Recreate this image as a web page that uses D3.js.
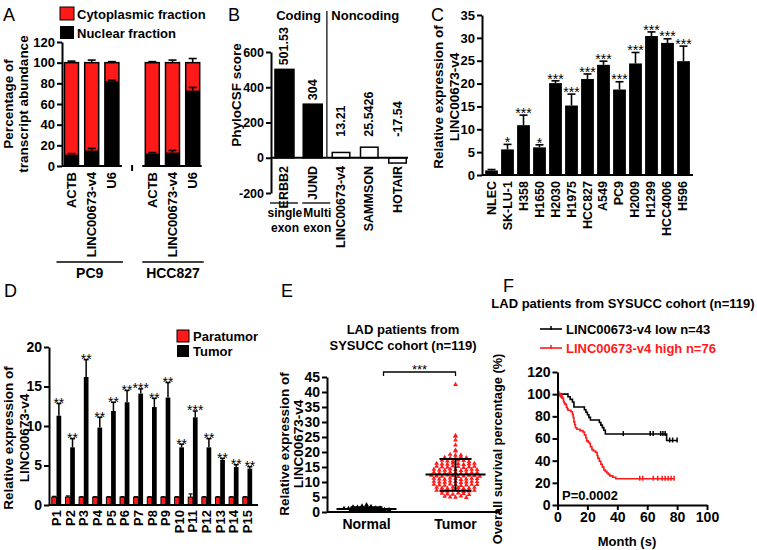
<!DOCTYPE html>
<html><head><meta charset="utf-8">
<script src="https://cdn.jsdelivr.net/npm/d3@7"></script>
<style>
html,body{margin:0;padding:0;background:#fff;}
svg{display:block;font-family:"Liberation Sans",Arial,sans-serif;}
</style></head><body>
<svg id="c" width="757" height="550"></svg>
<script>
// ---------- DATA ----------
// Panel A
const aGroups = ["PC9", "HCC827"];
const aGenes = ["ACTB", "LINC00673-v4", "U6"];
const aNuclear = [11, 15, 82, 12, 13, 73];
const aNuclearErr = [1, 2, 1, 1, 2, 3];
const aTotalErr = [1.5, 2.5, 1, 1, 2.5, 4];
const aTicks = [0, 20, 40, 60, 80, 100, 120];
// Panel B
const bCats = ["ERBB2", "JUND", "LINC00673-v4", "SAMMSON", "HOTAIR"];
const bScores = [501.53, 304, 30, 60, -30];
const bLabels = ["501.53", "304", "13.21", "25.5426", "-17.54"];
const bCoding = [true, true, false, false, false];
const bTicks = [-200, 0, 200, 400, 600];
// Panel C
const cCats = ["NLEC", "SK-LU-1", "H358", "H1650", "H2030", "H1975", "HCC827", "A549", "PC9", "H2009", "H1299", "HCC4006", "H596"];
const cMeans = [1.0, 5.6, 10.9, 6.05, 20.1, 15.2, 21.0, 24.1, 18.7, 24.4, 30.4, 28.9, 24.9];
const cTops = [1.2, 6.7, 13.1, 6.6, 20.6, 17.7, 22.1, 24.9, 20.4, 26.8, 31.3, 29.8, 28.2];
const cStars = ["", "*", "***", "*", "***", "***", "***", "***", "***", "***", "***", "***", "***"];
const cTicks = [0, 5, 10, 15, 20, 25, 30, 35];
// Panel D
const dCats = ["P1","P2","P3","P4","P5","P6","P7","P8","P9","P10","P11","P12","P13","P14","P15"];
const dSeries = ["Paratumor", "Tumor"];
const dPara = [1,1,1,1,1,1,1,1,1,1,1,1,1,1,1];
const dParaTop = [1.1,1.15,1.05,1.05,1.05,1.05,1.05,1.05,1.05,1.05,1.4,1.05,1.05,1.05,1.05];
const dTumor = [11.3, 7.3, 16.2, 9.8, 11.9, 13.0, 14.1, 12.4, 13.6, 7.3, 11.1, 7.3, 5.7, 4.8, 4.6];
const dTumorTop = [12.85, 8.4, 18.4, 11.1, 13.0, 14.5, 14.7, 13.5, 15.5, 7.7, 11.9, 8.4, 5.9, 5.1, 4.85];
const dStars = ["**","**","**","**","**","**","***","**","**","**","***","**","**","**","**"];
const dTicks = [0, 5, 10, 15, 20];
// Panel E
const eGroups = ["Normal", "Tumor"];
const eNormal = [2.4,2.0,1.9,1.8,1.7,1.6,1.5,1.5,1.4,1.3,1.3,1.2,1.2,1.1,1.1,1.0,1.0,1.0,0.9,0.9,0.8,0.8,0.7,0.7,0.6,0.6,0.5,0.5,0.4,0.3];
const eTumor = [42.5, 25.5,25.2, 24.0, 22.3, 20.6,20.3, 19.2,18.9,19.0,
  18.2,18.0,17.9,18.3,18.1, 17.2,17.0,16.9,17.3,17.1,16.8,
  16.2,16.0,15.9,16.3,16.1,15.8,16.0,16.2, 15.2,15.0,14.9,15.3,15.1,14.8,15.0,15.2,
  14.2,14.0,13.9,14.3,14.1,13.8,14.0,14.2,14.1, 13.2,13.0,12.9,13.3,13.1,12.8,13.0,13.2,13.1,
  12.2,12.0,11.9,12.3,12.1,11.8,12.0,12.2,12.1,11.9, 11.2,11.0,10.9,11.3,11.1,10.8,11.0,11.2,11.1,
  10.2,10.0,9.9,10.3,10.1,9.8,10.0,10.2,10.1, 9.2,9.0,8.9,9.3,9.1,8.8,9.0,9.2,9.1,
  8.2,8.0,7.9,8.3,8.1,7.8,8.0,8.2, 7.2,7.0,6.9,7.3,7.1,6.8,7.0,7.2,
  6.2,6.0,5.9,6.3,6.1,5.8, 5.2,5.0,4.9,5.3,4.8];
const eSummary = {Normal: [0.5, 1.0, 1.6], Tumor: [7.1, 12.5, 17.7]}; // low, center, high
const eTicks = [0, 5, 10, 15, 20, 25, 30, 35, 40, 45];
// Panel F
const fLowSteps = [[0,100],[7,97.7],[8.5,95.3],[10,93.0],[11,88.4],[18,86.0],[19,83.7],[20,81.4],[21,79.1],[22,76.7],[28,74.4],[29,72.1],[30,69.8],[31,67.4],[32,64.0],[73,58.2]];
const fLowEnd = 80;
const fLowCensor = [44, 62, 64, 69, 70.5, 72, 75, 77, 80];
const fHighSteps = [[0,100],[1.5,98.7],[2.5,97.4],[3.5,96.1],[4,93.4],[4.5,92.1],[5,90.8],[6,88.2],[6.5,86.8],[7,85.5],[9,84.2],[10,81.6],[10.5,78.9],[11,75.0],[11.5,72.4],[12,69.7],[13,68.4],[15,67.1],[17,65.8],[18,63.2],[19,60.5],[19.5,57.9],[20.5,56.6],[21.5,55.3],[22,52.6],[23,50.0],[24,48.7],[25.5,47.4],[26.5,44.7],[27,42.1],[28,39.5],[29,36.8],[30,34.2],[31,31.6],[32,30.3],[33,28.9],[34,27.6],[35,26.3],[37,25.0],[39,23.7]];
const fHighEnd = 78;
const fHighCensor = [0.5, 1, 2, 3, 55, 57, 64, 67, 70, 72, 74, 76, 78];
const fXTicks = [0, 20, 40, 60, 80, 100];
const fYTicks = [0, 20, 40, 60, 80, 100, 120];

// ---------- HELPERS ----------
const FONT = '"Liberation Sans", Arial, sans-serif';
const RED = "#ff1a1a";
const svg = d3.select("#c");
svg.append("rect").attr("width", 757).attr("height", 550).attr("fill", "#fff");

function leftAxis(g, y, x, ticks, fs, fmt) {
  const ax = g.append("g").attr("transform", `translate(${x},0)`)
    .call(d3.axisLeft(y).tickValues(ticks).tickSize(5).tickSizeOuter(0).tickPadding(2).tickFormat(fmt || (d => String(d))));
  ax.attr("font-family", FONT).attr("font-size", fs).attr("font-weight", "bold");
  ax.selectAll("path,line").attr("stroke", "#000").attr("stroke-width", 2);
  ax.selectAll("text").attr("fill", "#000");
  return ax;
}
function txt(g, x, y, s, o = {}) {
  const t = g.append("text").attr("x", x).attr("y", y).text(s)
    .attr("font-family", FONT).attr("font-size", o.fs || 13)
    .attr("font-weight", o.w || "bold").attr("fill", o.fill || "#000")
    .attr("text-anchor", o.anchor || "start");
  if (o.db) t.attr("dominant-baseline", o.db);
  if (o.rot) t.attr("transform", `rotate(${o.rot},${x},${y})`);
  return t;
}
function hline(g, x1, x2, y, w = 2, c = "#000") {
  g.append("line").attr("x1", x1).attr("x2", x2).attr("y1", y).attr("y2", y).attr("stroke", c).attr("stroke-width", w);
}
function vline(g, x, y1, y2, w = 2, c = "#000") {
  g.append("line").attr("x1", x).attr("x2", x).attr("y1", y1).attr("y2", y2).attr("stroke", c).attr("stroke-width", w);
}
function errBar(g, x, y1, y2, cap, w = 1.6) {
  vline(g, x, y1, y2, w);
  hline(g, x - cap / 2, x + cap / 2, y2, w);
}
function letter(s, x, y) { txt(svg, x, y, s, {fs: 18, w: "normal"}); }

// ---------- PANEL A ----------
{
  const g = svg.append("g");
  letter("A", 3, 21);
  const y = d3.scaleLinear().domain([0, 120]).range([166, 42]);
  const keys = [...aGenes.map(d => "PC9|" + d), "gap", ...aGenes.map(d => "HCC827|" + d)];
  const x = d3.scalePoint().domain(keys).range([61.4, 202.8]).padding(0.5);
  const bw = 14;
  const barKeys = keys.filter(k => k !== "gap");
  barKeys.forEach((k, i) => {
    const cx = x(k);
    g.append("rect").attr("x", cx - bw / 2).attr("y", y(100)).attr("width", bw).attr("height", y(0) - y(100))
      .attr("fill", RED).attr("stroke", "#000").attr("stroke-width", 1.5);
    g.append("rect").attr("x", cx - bw / 2).attr("y", y(aNuclear[i])).attr("width", bw).attr("height", y(0) - y(aNuclear[i]))
      .attr("fill", "#000");
    errBar(g, cx, y(aNuclear[i]), y(aNuclear[i] + aNuclearErr[i]), 8);
    errBar(g, cx, y(100), y(100 + aTotalErr[i]), 8);
    txt(g, cx, 172, k.split("|")[1], {fs: 13, anchor: "end", db: "central", rot: -90});
  });
  leftAxis(g, y, 62, aTicks, 13);
  hline(g, 62, x("PC9|U6") + 10, 166);
  hline(g, x("HCC827|ACTB") - 10, x("HCC827|U6") + 9, 166);
  vline(g, x("gap"), 165, 171);
  const grpEnds = [[x("PC9|ACTB") - 15, x("PC9|U6") + 11], [x("HCC827|ACTB") - 10, x("HCC827|U6") + 11]];
  aGroups.forEach((gr, i) => {
    hline(g, grpEnds[i][0], grpEnds[i][1], 262, 1.5);
    txt(g, (grpEnds[i][0] + grpEnds[i][1]) / 2, 278, gr, {fs: 14, anchor: "middle"});
  });
  g.append("rect").attr("x", 60).attr("y", 7).attr("width", 14).attr("height", 13).attr("fill", RED).attr("stroke", "#000").attr("stroke-width", 1);
  g.append("rect").attr("x", 60).attr("y", 26).attr("width", 14).attr("height", 13).attr("fill", "#000");
  txt(g, 77, 14, "Cytoplasmic fraction", {fs: 13, db: "central"});
  txt(g, 77, 33, "Nuclear fraction", {fs: 13, db: "central"});
  txt(g, 8, 104, "Percentage of", {fs: 13.5, anchor: "middle", db: "central", rot: -90});
  txt(g, 23, 104, "transcript abundance", {fs: 13.5, anchor: "middle", db: "central", rot: -90});
}

// ---------- PANEL B ----------
{
  const g = svg.append("g");
  letter("B", 228, 21);
  const y = d3.scaleLinear().domain([-200, 600]).range([193, 52]);
  const x = d3.scaleBand().domain(bCats).range([271, 411]).paddingInner(0.327).paddingOuter(0.14).align(0.5);
  const bw = x.bandwidth();
  bCats.forEach((c, i) => {
    const v = bScores[i];
    const x0 = x(c);
    g.append("rect").attr("x", x0 + (bCoding[i] ? 0 : 0.75)).attr("y", y(Math.max(0, v)))
      .attr("width", bw - (bCoding[i] ? 0 : 1.5)).attr("height", Math.abs(y(v) - y(0)))
      .attr("fill", bCoding[i] ? "#000" : "#fff").attr("stroke", "#000").attr("stroke-width", 1.5);
    const ly = (bCoding[i] ? y(v) : y(0) - 17) - 4;
    txt(g, x0 + bw / 2, ly, bLabels[i], {fs: 12.5, anchor: "start", db: "central", rot: -90});
    txt(g, x0 + bw / 2, 166, c, {fs: 12.5, anchor: "end", db: "central", rot: -90});
  });
  leftAxis(g, y, 271, bTicks, 12.5);
  hline(g, 271, 408, y(0));
  vline(g, (x("JUND") + bw + x("LINC00673-v4")) / 2, 11, y(0), 1.5, "#333");
  txt(g, (x("ERBB2") + x("JUND") + bw) / 2, 20, "Coding", {fs: 13, anchor: "middle"});
  txt(g, (x("LINC00673-v4") + x("HOTAIR") + bw) / 2 - 4, 20, "Noncoding", {fs: 13, anchor: "middle"});
  const lines = [[x("ERBB2") - 5, x("ERBB2") + bw + 4, "single"], [x("JUND") - 1, x("JUND") + bw + 8, "Multi"]];
  lines.forEach(([a, b, s]) => {
    hline(g, a, b, 203, 1.3);
    txt(g, (a + b) / 2 + 1, 217, s, {fs: 12, anchor: "middle"});
    txt(g, (a + b) / 2 + 1, 232, "exon", {fs: 12, anchor: "middle"});
  });
  txt(g, 236, 95, "PhyloCSF score", {fs: 13.5, anchor: "middle", db: "central", rot: -90});
}

// ---------- PANEL C ----------
{
  const g = svg.append("g");
  letter("C", 431, 21);
  const y = d3.scaleLinear().domain([0, 35]).range([175, 15]);
  const x = d3.scaleBand().domain(cCats).range([482, 693]).paddingInner(0.2).paddingOuter(0.194);
  const bw = x.bandwidth();
  cCats.forEach((c, i) => {
    const cx = x(c) + bw / 2;
    g.append("rect").attr("x", x(c)).attr("y", y(cMeans[i])).attr("width", bw).attr("height", y(0) - y(cMeans[i])).attr("fill", "#000");
    errBar(g, cx, y(cMeans[i]), y(cTops[i]), 8);
    if (cStars[i]) txt(g, cx, y(cTops[i]) + 2.7, cStars[i], {fs: 14, anchor: "middle", w: "normal"});
    txt(g, cx, 181, c, {fs: 12.5, anchor: "end", db: "central", rot: -90});
  });
  leftAxis(g, y, 482, cTicks, 13);
  hline(g, 482, 693, 175);
  txt(g, 438, 97, "Relative expression of", {fs: 13.5, anchor: "middle", db: "central", rot: -90});
  txt(g, 454, 97, "LINC00673-v4", {fs: 13.5, anchor: "middle", db: "central", rot: -90});
}

// ---------- PANEL D ----------
{
  const g = svg.append("g");
  letter("D", 4, 297);
  const y = d3.scaleLinear().domain([0, 20]).range([505, 347]);
  const x = d3.scaleBand().domain(dCats).range([48, 256]).paddingInner(0.31).paddingOuter(0.28);
  const xs = d3.scaleBand().domain(dSeries).range([0, x.bandwidth()]);
  const sw = xs.bandwidth();
  dCats.forEach((c, i) => {
    const px = x(c) + xs("Paratumor"), tx = x(c) + xs("Tumor");
    g.append("rect").attr("x", px).attr("y", y(dPara[i])).attr("width", sw).attr("height", y(0) - y(dPara[i]))
      .attr("fill", RED).attr("stroke", "#000").attr("stroke-width", 1);
    errBar(g, px + sw / 2, y(dPara[i]), y(dParaTop[i]), 4, 1.2);
    g.append("rect").attr("x", tx).attr("y", y(dTumor[i])).attr("width", sw).attr("height", y(0) - y(dTumor[i])).attr("fill", "#000");
    errBar(g, tx + sw / 2, y(dTumor[i]), y(dTumorTop[i]), 5, 1.5);
    txt(g, tx + sw / 2, y(dTumorTop[i]) + 4.4, dStars[i], {fs: 14, anchor: "middle", w: "normal"});
    txt(g, x(c) + x.bandwidth() / 2, 510, c, {fs: 13, anchor: "end", db: "central", rot: -90});
  });
  leftAxis(g, y, 49, dTicks, 14);
  hline(g, 49, 258, 505);
  g.append("rect").attr("x", 177).attr("y", 330).attr("width", 12).attr("height", 12).attr("fill", RED).attr("stroke", "#000").attr("stroke-width", 1);
  g.append("rect").attr("x", 177).attr("y", 345).attr("width", 12).attr("height", 12).attr("fill", "#000");
  txt(g, 193, 336, dSeries[0], {fs: 13, db: "central"});
  txt(g, 193, 351, dSeries[1], {fs: 13, db: "central"});
  txt(g, 8, 438, "Relative expression of", {fs: 13.5, anchor: "middle", db: "central", rot: -90});
  txt(g, 24, 438, "LINC00673-v4", {fs: 13.5, anchor: "middle", db: "central", rot: -90});
}

// ---------- PANEL E ----------
{
  const g = svg.append("g");
  letter("E", 281, 297);
  const y = d3.scaleLinear().domain([0, 45]).range([512, 377]);
  const x = d3.scalePoint().domain(eGroups).range([322, 500]).padding(0.5);
  const tri = d3.symbol().type(d3.symbolTriangle).size(10);
  function swarm(vals, grp, color, binW, sp) {
    const bins = d3.group(vals, v => Math.round(v / binW));
    bins.forEach(arr => {
      arr.forEach((v, j) => {
        const off = (j - (arr.length - 1) / 2) * sp;
        g.append("path").attr("d", tri).attr("fill", color)
          .attr("transform", `translate(${x(grp) + off},${y(v)})`);
      });
    });
  }
  swarm(eNormal, "Normal", "#000", 0.5, 4.5);
  swarm(eTumor, "Tumor", RED, 1, 5.4);
  eGroups.forEach(gr => {
    const [lo, c, hi] = eSummary[gr];
    const cx = x(gr);
    hline(g, cx - 30, cx + 30, y(c), 2);
    vline(g, cx, y(lo), y(hi), 2);
    hline(g, cx - 16, cx + 16, y(lo), 2);
    hline(g, cx - 16, cx + 16, y(hi), 2);
    txt(g, cx, 524, gr, {fs: 14, anchor: "middle", db: "central"});
  });
  leftAxis(g, y, 327, eTicks, 14);
  hline(g, 327, 500, 512);
  const bx1 = x("Normal") + 17, bx2 = x("Tumor");
  hline(g, bx1, bx2, 372, 1.3);
  vline(g, bx1, 371.5, 376, 1.3);
  vline(g, bx2, 371.5, 376, 1.3);
  txt(g, (bx1 + bx2) / 2, 373.5, "***", {fs: 13, anchor: "middle", w: "normal"});
  txt(g, 403, 334, "LAD patients from", {fs: 13, anchor: "middle"});
  txt(g, 403, 350, "SYSUCC cohort (n=119)", {fs: 13, anchor: "middle"});
  txt(g, 284, 444, "Relative expression of", {fs: 13.5, anchor: "middle", db: "central", rot: -90});
  txt(g, 298, 444, "LINC00673-v4", {fs: 13.5, anchor: "middle", db: "central", rot: -90});
}

// ---------- PANEL F ----------
{
  const g = svg.append("g");
  letter("F", 503, 292);
  const x = d3.scaleLinear().domain([0, 100]).range([557.5, 707]);
  const y = d3.scaleLinear().domain([0, 120]).range([505, 372]);
  txt(g, 623, 308, "LAD patients from SYSUCC cohort (n=119)", {fs: 13, anchor: "middle"});
  function km(steps, end, censor, color) {
    const pts = [...steps, [end, steps[steps.length - 1][1]]];
    g.append("path").attr("d", d3.line().x(d => x(d[0])).y(d => y(d[1])).curve(d3.curveStepAfter)(pts))
      .attr("fill", "none").attr("stroke", color).attr("stroke-width", 1.6);
    const surv = t => { let s = 100; steps.forEach(d => { if (d[0] <= t) s = d[1]; }); return s; };
    censor.forEach(t => vline(g, x(t), y(surv(t)) - 3, y(surv(t)) + 2, 1.5, color));
  }
  km(fLowSteps, fLowEnd, fLowCensor, "#000");
  km(fHighSteps, fHighEnd, fHighCensor, RED);
  leftAxis(g, y, 557.5, fYTicks, 14);
  const bx = g.append("g").attr("transform", "translate(0,505)")
    .call(d3.axisBottom(x).tickValues(fXTicks).tickSize(5).tickSizeOuter(0).tickPadding(2));
  bx.attr("font-family", FONT).attr("font-size", 14).attr("font-weight", "bold");
  bx.selectAll("path,line").attr("stroke", "#000").attr("stroke-width", 2);
  bx.selectAll("text").attr("fill", "#000");
  txt(g, 627, 546, "Month (s)", {fs: 13, anchor: "middle"});
  txt(g, 497, 449, "Overall survival percentage (%)", {fs: 12.8, anchor: "middle", db: "central", rot: -90});
  txt(g, 562, 500, "P=0.0002", {fs: 13});
  [["LINC00673-v4 low n=43", "#000", 329], ["LINC00673-v4 high n=76", RED, 348]].forEach(([s, c, ly]) => {
    hline(g, 540, 562, ly, 1.6, c);
    vline(g, 551, ly - 3, ly + 1, 1.5, c);
    txt(g, 566, ly, s, {fs: 13, fill: c, db: "central"});
  });
}
</script>
</body></html>
